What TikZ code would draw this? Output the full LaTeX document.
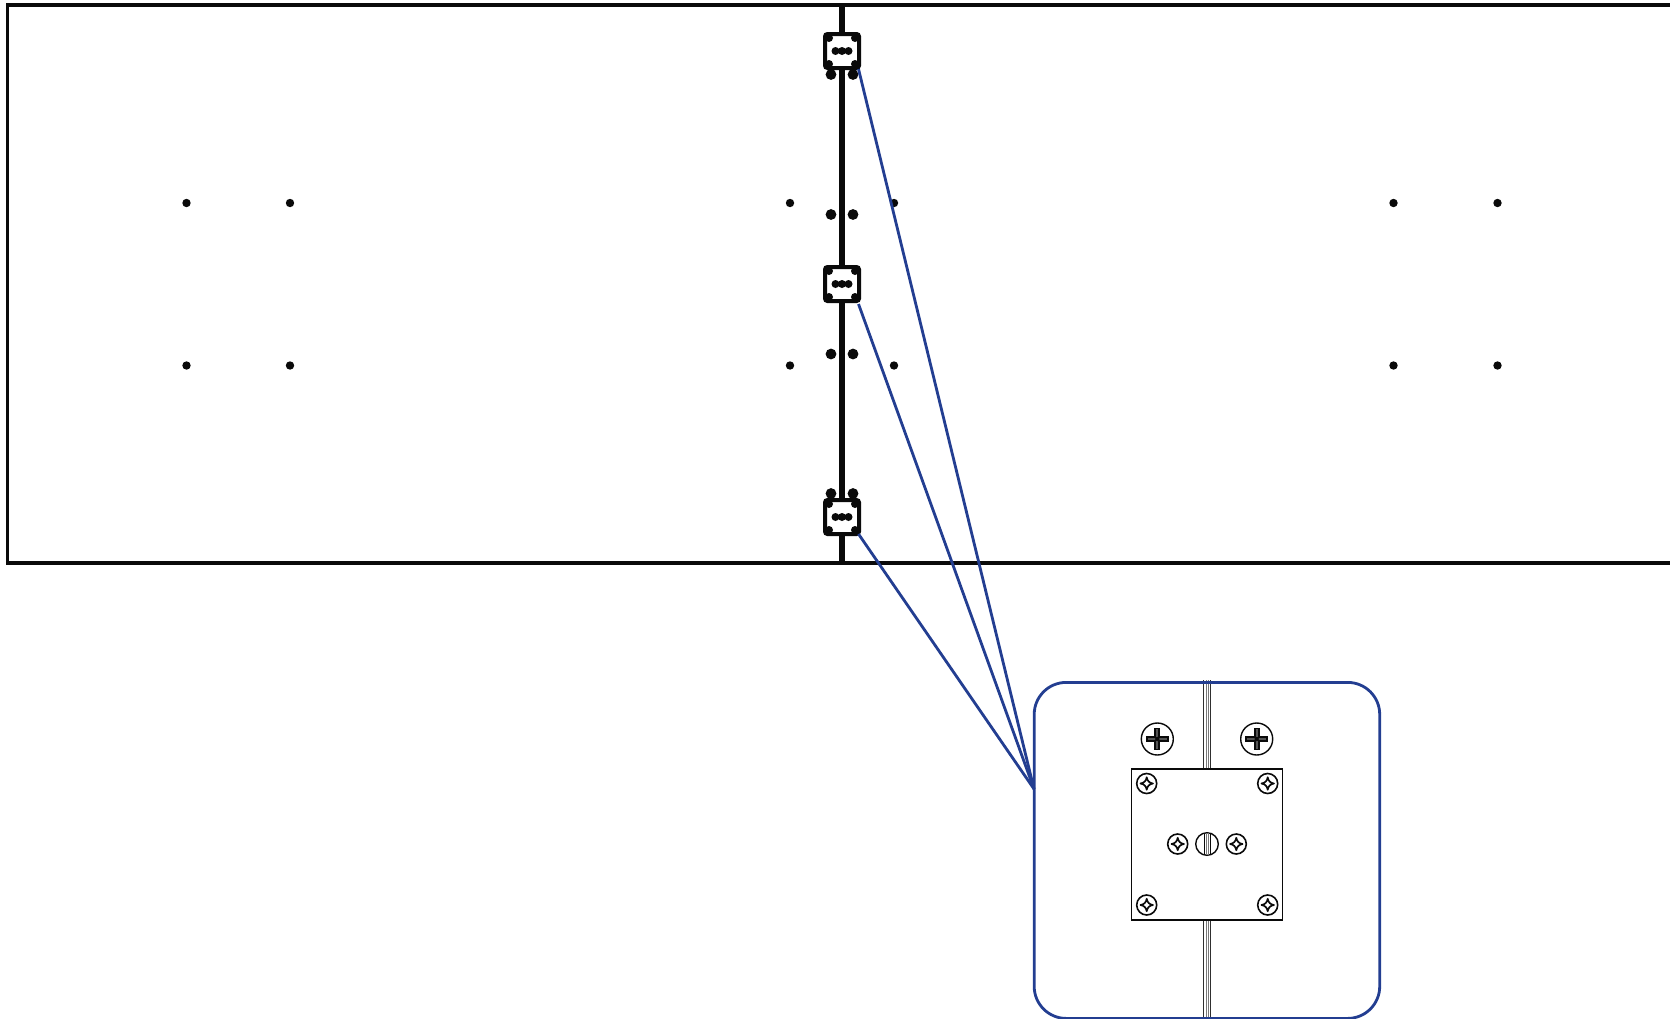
\documentclass[tikz,border=0pt]{standalone}
\definecolor{calloutblue}{RGB}{35,62,145}
\definecolor{ink}{RGB}{10,10,10}
\definecolor{slotgrey}{RGB}{120,120,120}
\tikzset{
  frameline/.style={draw=ink,line width=3.8pt,line cap=butt},
  hingebar/.style={draw=ink,line width=5.2pt},
  leader/.style={draw=calloutblue,line width=2.8pt},
  calloutbox/.style={draw=calloutblue,line width=2.8pt,rounded corners=32pt},
  thin ink/.style={draw=ink,line width=1.4pt},
  platescrew/.pic={
    \draw[thin ink,fill=white,line width=1.6pt] (0,0) circle (10);
    \draw[thin ink,line width=1.7pt,fill=white,line join=round]
      (6.2,0) .. controls (2.6,0.6) and (0.6,2.6) .. (0,6.2)
      .. controls (-0.6,2.6) and (-2.6,0.6) .. (-6.2,0)
      .. controls (-2.6,-0.6) and (-0.6,-2.6) .. (0,-6.2)
      .. controls (0.6,-2.6) and (2.6,-0.6) .. cycle;
  },
  phillips/.pic={
    \draw[thin ink,fill=white,line width=1.4pt] (0,0) circle (16);
    \draw[draw=ink,fill=slotgrey!70!black,line width=1.8pt]
      (-10.5,-2) -- (-2,-2) -- (-2,-10.5) -- (2,-10.5) -- (2,-2) -- (10.5,-2) -- (10.5,2)
      -- (2,2) -- (2,10.5) -- (-2,10.5) -- (-2,2) -- (-10.5,2) -- cycle;
    \fill[ink] (0,0) circle (2.2);
  },
  minihinge/.pic={
    \draw[draw=ink,fill=white,line width=4pt,rounded corners=2.5pt] (-17,-17) rectangle (17,17);
    \foreach \sx in {-1,1}\foreach \sy in {-1,1}
      \fill[ink] (13*\sx,13*\sy) circle (4);
    \foreach \dx in {-6.5,0,6.5}
      \fill[ink] (\dx,0) circle (4);
  }
}
\begin{document}
\begin{tikzpicture}[x=1pt,y=-1pt]
\useasboundingbox (0,0) rectangle (1670,1018);
% main frame
\draw[frameline] (1670,5) -- (7.5,5) -- (7.5,563) -- (1670,563);
\draw[hingebar] (842,5) -- (842,563);
% screw holes
\foreach \x in {186.5,290,790,894,1393.5,1497.5}\foreach \y in {203,365.5}
  \fill[ink] (\x,\y) circle (4.2);
% large holes
\foreach \x in {831,853}\foreach \y in {74.5,214.5,354,493.5}
  \fill[ink] (\x,\y) circle (5.4);
% mini hinges
\pic at (842,51) {minihinge};
\pic at (842,284) {minihinge};
\pic at (842,517) {minihinge};
% callout anchors
\coordinate (hingeA) at (858.5,69);
\coordinate (hingeB) at (858.5,304);
\coordinate (hingeC) at (858.5,534);
\coordinate (calloutPort) at (1034,789);
% callout
\draw[leader] (hingeA) -- (calloutPort);
\draw[leader] (hingeB) -- (calloutPort);
\draw[leader] (hingeC) -- (calloutPort);
% bars in detail
\begin{scope}
\clip (1000,680) rectangle (1400,1018);
\foreach \ya/\yb in {680/769,920/1018}{
  \draw[draw=ink!85,line width=1.4pt] (1203.6,\ya) -- (1203.6,\yb);
  \draw[draw=ink!85,line width=1.4pt] (1210.4,\ya) -- (1210.4,\yb);
  \draw[draw=slotgrey,line width=1.2pt] (1206.1,\ya) -- (1206.1,\yb);
  \draw[draw=slotgrey,line width=1.2pt] (1208.1,\ya) -- (1208.1,\yb);
}
\end{scope}
\node[calloutbox,minimum width=345.5pt,minimum height=336pt,inner sep=0pt,outer sep=0pt,anchor=north west] (callout) at (1034.2,682.4) {};
\node[draw=ink,line width=1.4pt,fill=white,minimum width=150.5pt,minimum height=151.2pt,inner sep=0pt,outer sep=0pt] (plate) at (1207,844.4) {};
\pic at (1157.3,739) {phillips};
\pic at (1256.7,739) {phillips};
\pic at (1146.7,783.5) {platescrew};
\pic at (1267.7,783.5) {platescrew};
\pic at (1146.7,905) {platescrew};
\pic at (1267.7,905) {platescrew};
\pic at (1177.7,844) {platescrew};
\pic at (1236.3,844) {platescrew};
% centre slotted screw
\draw[thin ink,fill=white] (1207,844) circle (11.3);
\draw[draw=ink,line width=0.9pt] (1204,833.2) -- (1204,854.8);
\draw[draw=slotgrey,line width=0.9pt] (1206,832.8) -- (1206,855.2);
\draw[draw=slotgrey,line width=0.9pt] (1208,832.8) -- (1208,855.2);
\draw[draw=ink,line width=0.9pt] (1210,833.2) -- (1210,854.8);
\end{tikzpicture}
\end{document}
